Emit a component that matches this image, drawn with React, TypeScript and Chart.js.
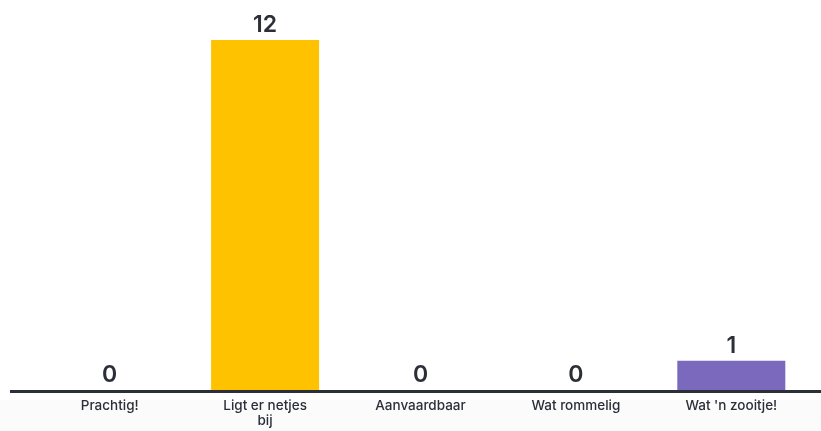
import React, { useEffect, useRef } from "react";
import { Chart, registerables } from "chart.js";

Chart.register(...registerables);

const categories: (string | string[])[] = [
  "Prachtig!",
  ["Ligt er netjes", "bij"],
  "Aanvaardbaar",
  "Wat rommelig",
  "Wat 'n zooitje!",
];
const values: number[] = [0, 12, 0, 0, 1];
const barColors: string[] = ["#5b8def", "#ffc200", "#3fb27f", "#e2574c", "#7b69bd"];

const FONT = "Inter, 'Noto Sans', sans-serif";
const TEXT = "#2c2e38";

export default function App() {
  const ref = useRef<HTMLCanvasElement | null>(null);
  useEffect(() => {
    if (!ref.current) return;
    const valueLabels = {
      id: "valueLabels",
      afterDatasetsDraw(chart: any) {
        const ctx = chart.ctx;
        const meta = chart.getDatasetMeta(0);
        ctx.save();
        ctx.font = `600 23px ${FONT}`;
        ctx.fillStyle = TEXT;
        ctx.textAlign = "center";
        ctx.textBaseline = "alphabetic";
        meta.data.forEach((bar: any, i: number) => {
          ctx.fillText(String(values[i]), bar.x, bar.y - 8);
        });
        ctx.restore();
      },
    };
    const baseline = {
      id: "baseline",
      beforeDraw(chart: any) {
        const ctx = chart.ctx;
        ctx.save();
        ctx.fillStyle = "#fbfbfb";
        ctx.fillRect(0, 400, chart.width, chart.height - 400);
        ctx.restore();
      },
      afterDatasetsDraw(chart: any) {
        const ctx = chart.ctx;
        const y = chart.chartArea.bottom + 1.5;
        ctx.save();
        ctx.strokeStyle = "#2c2e38";
        ctx.lineWidth = 3;
        ctx.beginPath();
        ctx.moveTo(10, y);
        ctx.lineTo(chart.width, y);
        ctx.stroke();
        ctx.restore();
      },
    };
    const chart = new Chart(ref.current, {
      type: "bar",
      data: {
        labels: categories,
        datasets: [
          {
            data: values,
            backgroundColor: barColors,
            borderWidth: 0,
            categoryPercentage: 1,
            barPercentage: 0.695,
          },
        ],
      },
      options: {
        responsive: false,
        animation: false,
        layout: { padding: { left: 32, right: 12, top: 40, bottom: 0 } },
        plugins: { legend: { display: false }, tooltip: { enabled: false } },
        scales: {
          y: { display: false, min: 0, max: 12 },
          x: {
            grid: { display: false, drawTicks: false },
            border: { display: false },
            ticks: {
              color: TEXT,
              padding: 8,
              maxRotation: 0,
              autoSkip: false,
              font: { family: FONT, size: 13.5, weight: 500 as any, lineHeight: 1.15 },
            },
            afterFit: (scale: any) => {
              scale.height = 41;
            },
          },
        },
      },
      plugins: [valueLabels, baseline],
    });
    return () => chart.destroy();
  }, []);
  return (
    <div style={{ position: "fixed", left: 0, top: 0, width: 821, height: 431, background: "#fff" }}>
      <canvas ref={ref} width={821} height={431} style={{ display: "block" }} />
    </div>
  );
}
